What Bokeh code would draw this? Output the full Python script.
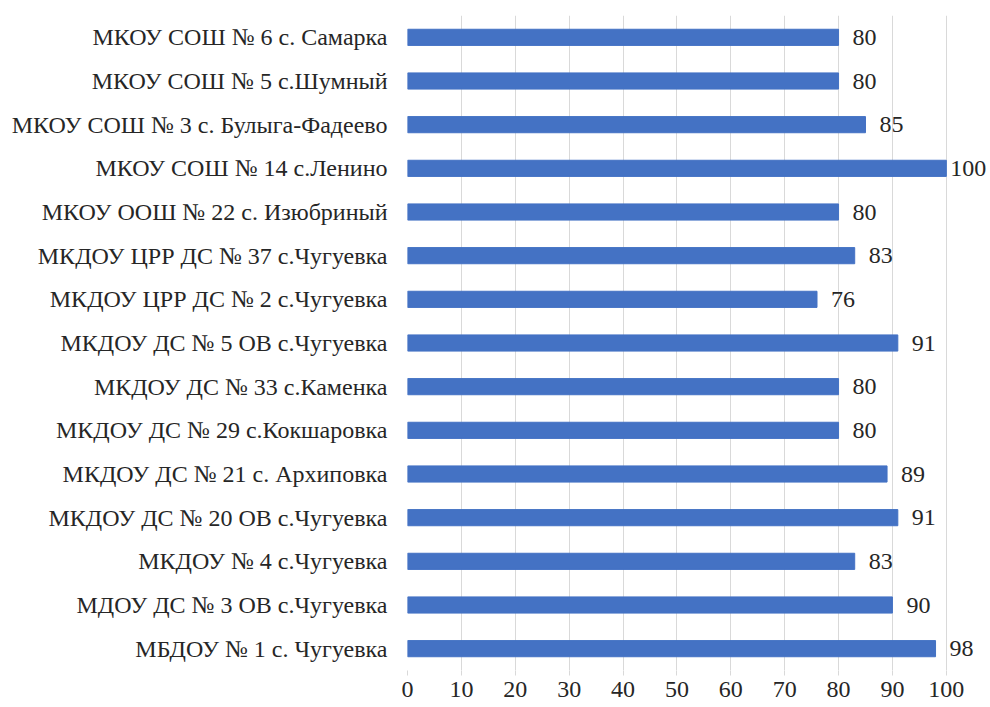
from bokeh.plotting import figure
from bokeh.models import ColumnDataSource, FixedTicker, LabelSet, Range1d
from bokeh.embed import file_html
from bokeh.resources import INLINE

categories = [
    "МБДОУ № 1 с. Чугуевка",
    "МДОУ ДС № 3 ОВ с.Чугуевка",
    "МКДОУ № 4 с.Чугуевка",
    "МКДОУ ДС № 20 ОВ с.Чугуевка",
    "МКДОУ ДС № 21 с. Архиповка",
    "МКДОУ ДС № 29 с.Кокшаровка",
    "МКДОУ ДС № 33 с.Каменка",
    "МКДОУ ДС № 5 ОВ с.Чугуевка",
    "МКДОУ ЦРР ДС № 2 с.Чугуевка",
    "МКДОУ ЦРР ДС № 37 с.Чугуевка",
    "МКОУ ООШ № 22 с. Изюбриный",
    "МКОУ СОШ № 14 с.Ленино",
    "МКОУ СОШ № 3 с. Булыга-Фадеево",
    "МКОУ СОШ № 5 с.Шумный",
    "МКОУ СОШ № 6 с. Самарка",
]
values = [98, 90, 83, 91, 89, 80, 80, 91, 76, 83, 80, 100, 85, 80, 80]
x_ticks = [0, 10, 20, 30, 40, 50, 60, 70, 80, 90, 100]

FONT = "Liberation Serif"
FS = "24px"

src = ColumnDataSource(dict(
    cat=categories,
    val=values,
    lbl=[str(v) for v in values],
    off=[4 if v >= 100 else 14 for v in values],
))

# axis scale runs to 100; the extra room to the right only holds the value labels
p = figure(
    y_range=categories, x_range=Range1d(0, 108.2),
    width=990, height=700,
    output_backend="svg", toolbar_location=None,
    min_border_left=407, min_border_right=0,
    min_border_top=15, min_border_bottom=30,
)
p.outline_line_color = None
p.background_fill_color = "white"

p.hbar(y="cat", right="val", left=0, height=0.37, source=src,
       fill_color="#4472C4", line_color="#4472C4")

labels = LabelSet(x="val", y="cat", text="lbl", x_offset="off", source=src,
                  text_font=FONT, text_font_size=FS, text_color="#262626",
                  text_align="left", text_baseline="middle")
p.add_layout(labels)

p.xaxis.ticker = FixedTicker(ticks=x_ticks)
p.xaxis.axis_line_color = None
p.xaxis.major_tick_line_color = "#d9d9d9"
p.xaxis.major_tick_out = 5
p.xaxis.major_tick_in = 0
p.xaxis.minor_tick_line_color = None
p.xaxis.major_label_text_font = FONT
p.xaxis.major_label_text_font_size = FS
p.xaxis.major_label_text_color = "#262626"
p.xaxis.major_label_standoff = 6

p.yaxis.axis_line_color = None
p.yaxis.major_tick_line_color = None
p.yaxis.major_tick_out = 0
p.yaxis.major_label_text_font = FONT
p.yaxis.major_label_text_font_size = FS
p.yaxis.major_label_text_color = "#262626"
p.yaxis.major_label_standoff = 20

p.xgrid.grid_line_color = "#d9d9d9"
p.xgrid.ticker = FixedTicker(ticks=x_ticks)
p.ygrid.grid_line_color = None

open("out.html", "w").write(file_html(p, INLINE))
